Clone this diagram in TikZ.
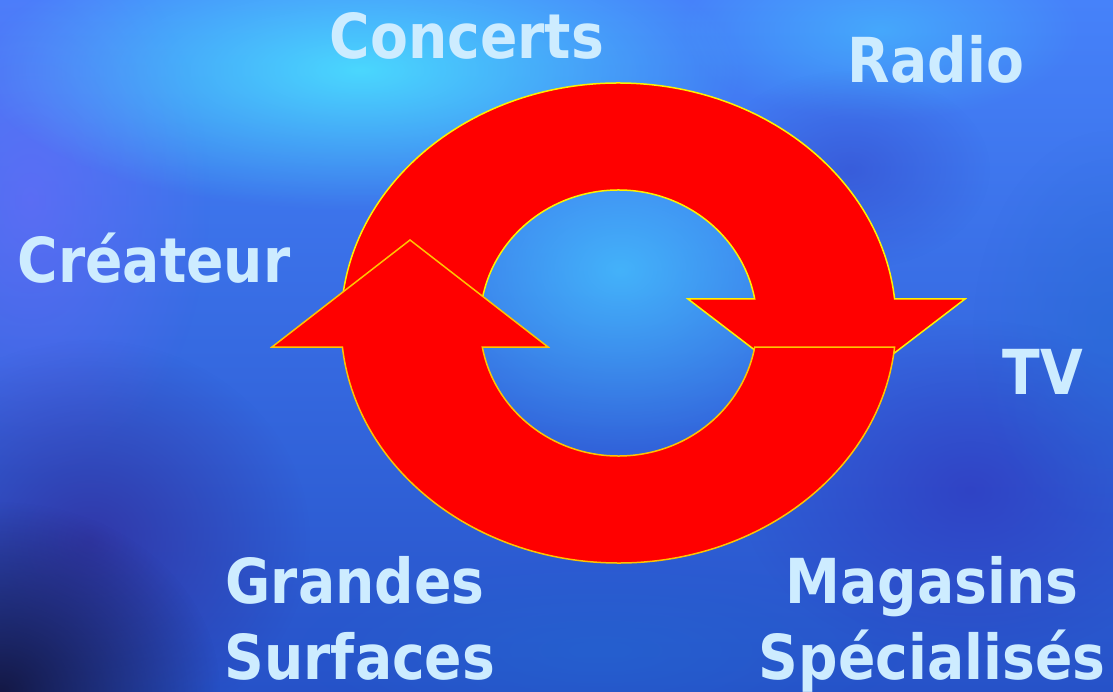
\documentclass[tikz,border=0pt]{standalone}
\usepackage{fontspec}
\setmainfont{DejaVu Sans}
\usetikzlibrary{fadings}
\tikzfading[name=softspot, inner color=transparent!0, outer color=transparent!100]
\definecolor{bgtop}{RGB}{70,130,250}
\definecolor{bgbot}{RGB}{38,82,200}
\definecolor{cyanglow}{RGB}{75,225,255}
\definecolor{skyglow}{RGB}{70,195,255}
\definecolor{violetglow}{RGB}{110,105,250}
\definecolor{navy}{RGB}{18,18,55}
\definecolor{deeppurple}{RGB}{50,40,150}
\definecolor{deepblue}{RGB}{48,55,190}
\definecolor{midblue}{RGB}{35,105,210}
\definecolor{arrowred}{RGB}{255,0,0}
\definecolor{rimyellow}{RGB}{255,240,0}
\definecolor{rimgold}{RGB}{255,195,0}
\definecolor{labeltext}{RGB}{205,236,255}
\tikzset{
  spot/.style={fill=#1, path fading=softspot},
  piece/.style={fill=arrowred, line width=1.5pt, line join=miter},
  label/.style={text=labeltext, font=\fontsize{62}{70}\selectfont\bfseries, xscale=0.89, anchor=base, inner sep=0pt}
}
\begin{document}
\begin{tikzpicture}[x=1pt,y=1pt,yscale=-1]
% background
\shade[top color=bgtop, bottom color=bgbot] (0,0) rectangle (1113,692);
\useasboundingbox (0,0) rectangle (1113,692);
\begin{scope}
\clip (0,0) rectangle (1113,692);
\fill[spot=violetglow, opacity=0.6] (30,200) ellipse (180 and 280);
\fill[spot=cyanglow, opacity=0.9] (360,70) ellipse (380 and 140);
\fill[spot=skyglow, opacity=0.8] (620,270) ellipse (240 and 180);
\fill[spot=skyglow, opacity=0.6] (880,30) ellipse (200 and 90);
\fill[spot=deeppurple, opacity=0.7] (90,540) ellipse (220 and 200);
\fill[spot=navy, opacity=0.9] (0,692) ellipse (220 and 190);
\fill[spot=deepblue, opacity=0.7] (970,490) ellipse (230 and 170);
\fill[spot=midblue, opacity=0.5] (1113,330) ellipse (140 and 200);
\fill[spot=midblue, opacity=0.5] (600,650) ellipse (300 and 90);
\fill[spot=deepblue, opacity=0.4] (850,170) ellipse (140 and 100);
\end{scope}
% top arc (arrow pointing down at right)
\draw[piece, draw=rimyellow] (342.4,299)
  arc[start angle=185.74, end angle=354.26, x radius=277.5, y radius=240]
  -- (965,299) -- (826.5,405) -- (688,299) -- (754.7,299)
  arc[start angle=349.6, end angle=190.4, x radius=138.5, y radius=133]
  -- cycle;
% bottom arc (arrow pointing up at left)
\draw[piece, draw=rimgold] (894.6,347)
  arc[start angle=5.74, end angle=174.26, x radius=277.5, y radius=240]
  -- (272,347) -- (410,240) -- (548,347) -- (482.3,347)
  arc[start angle=169.6, end angle=10.4, x radius=138.5, y radius=133]
  -- cycle;
% labels
\node[label] (concerts) at (467,59) {Concerts};
\node[label] (radio) at (936,83) {Radio};
\node[label] (createur) at (154,283) {Créateur};
\node[label] (tv) at (1043,394) {TV};
\node[label] (grandes) at (355,603) {Grandes};
\node[label] (surfaces) at (360,679) {Surfaces};
\node[label] (magasins) at (932,603) {Magasins};
\node[label] (specialises) at (932,679) {Spécialisés};
\end{tikzpicture}
\end{document}
